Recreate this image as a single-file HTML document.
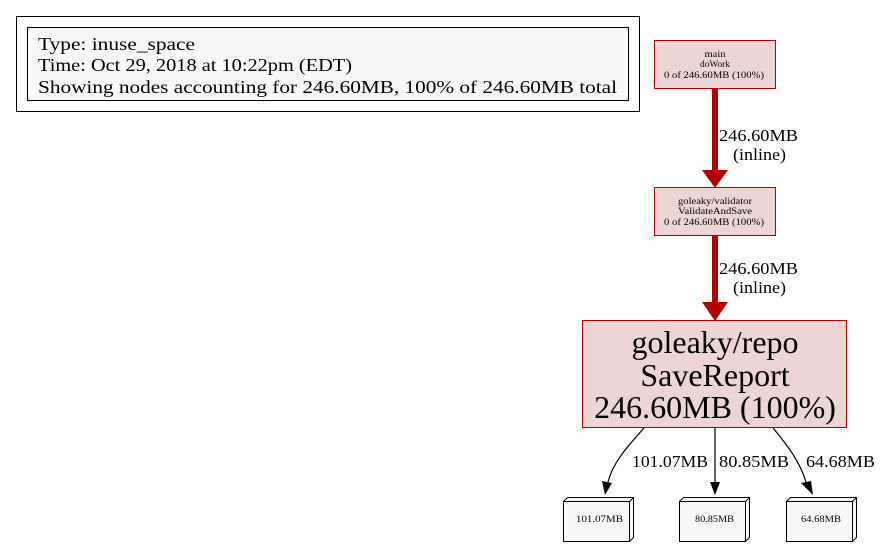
<!DOCTYPE html>
<html><head><meta charset="utf-8"><style>
html,body{margin:0;padding:0;background:#fff;}
svg{display:block;font-family:"Liberation Serif",serif;}
</style></head><body>
<svg width="882" height="547" viewBox="0 0 882 547" xmlns="http://www.w3.org/2000/svg">
<rect width="882" height="547" fill="#fff"/>
<!-- legend -->
<rect x="16.5" y="16.5" width="623" height="95" fill="#fff" stroke="#000"/>
<rect x="27.5" y="27.5" width="601" height="73" fill="#f8f8f8" stroke="#000"/>
<text x="38" y="50" font-size="18" textLength="157" lengthAdjust="spacingAndGlyphs">Type: inuse_space</text>
<text x="38" y="71" font-size="18" textLength="314" lengthAdjust="spacingAndGlyphs">Time: Oct 29, 2018 at 10:22pm (EDT)</text>
<text x="38" y="93" font-size="18" textLength="579" lengthAdjust="spacingAndGlyphs">Showing nodes accounting for 246.60MB, 100% of 246.60MB total</text>

<!-- main node -->
<rect x="654.5" y="40.5" width="121" height="48" fill="#edd5d5" stroke="#b20000"/>
<text x="715" y="57" font-size="9" text-anchor="middle" textLength="21" lengthAdjust="spacingAndGlyphs">main</text>
<text x="715" y="67" font-size="9" text-anchor="middle" textLength="30" lengthAdjust="spacingAndGlyphs">doWork</text>
<text x="714" y="78" font-size="9" text-anchor="middle" textLength="100" lengthAdjust="spacingAndGlyphs">0 of 246.60MB (100%)</text>

<!-- edge 1 -->
<rect x="712" y="88" width="6" height="84" fill="#b20000"/>
<polygon points="702,170 728,170 715,188" fill="#b20000"/>
<text x="719" y="141" font-size="17" textLength="79" lengthAdjust="spacingAndGlyphs">246.60MB</text>
<text x="733" y="160" font-size="17" textLength="53" lengthAdjust="spacingAndGlyphs">(inline)</text>

<!-- validator node -->
<rect x="654.5" y="187.5" width="121" height="48" fill="#edd5d5" stroke="#b20000"/>
<text x="715" y="204" font-size="9" text-anchor="middle" textLength="74" lengthAdjust="spacingAndGlyphs">goleaky/validator</text>
<text x="715" y="214" font-size="9" text-anchor="middle" textLength="74" lengthAdjust="spacingAndGlyphs">ValidateAndSave</text>
<text x="714" y="225" font-size="9" text-anchor="middle" textLength="100" lengthAdjust="spacingAndGlyphs">0 of 246.60MB (100%)</text>

<!-- edge 2 -->
<rect x="712" y="235" width="6" height="70" fill="#b20000"/>
<polygon points="702,302 728,302 715,321" fill="#b20000"/>
<text x="719" y="274" font-size="17" textLength="79" lengthAdjust="spacingAndGlyphs">246.60MB</text>
<text x="733" y="293" font-size="17" textLength="53" lengthAdjust="spacingAndGlyphs">(inline)</text>

<!-- repo node -->
<rect x="582.5" y="320.5" width="264" height="107" fill="#edd5d5" stroke="#b20000"/>
<text x="715" y="353" font-size="32" text-anchor="middle">goleaky/repo</text>
<text x="715" y="386" font-size="32" text-anchor="middle">SaveReport</text>
<text x="715" y="418" font-size="32" text-anchor="middle">246.60MB (100%)</text>

<!-- bottom edges -->
<path d="M644,428 C628,446 613,462 608,482" fill="none" stroke="#000" stroke-width="1.2"/>
<polygon points="602,481 612,483 605,495" fill="#000"/>
<line x1="715" y1="428" x2="715" y2="482" stroke="#000" stroke-width="1.2"/>
<polygon points="710,482 720,482 715,495" fill="#000"/>
<path d="M773,428 C788,446 800,462 806,482" fill="none" stroke="#000" stroke-width="1.2"/>
<polygon points="801,483 811,481 813,495" fill="#000"/>
<text x="632" y="467" font-size="17" textLength="76" lengthAdjust="spacingAndGlyphs">101.07MB</text>
<text x="719" y="467" font-size="17" textLength="70" lengthAdjust="spacingAndGlyphs">80.85MB</text>
<text x="806" y="467" font-size="17" textLength="69" lengthAdjust="spacingAndGlyphs">64.68MB</text>

<!-- box3d nodes -->
<g stroke="#000" fill="#f8f8f8">
<path d="M563.5,501.5 L567.5,497.5 L633.5,497.5 L633.5,537.5 L629.5,541.5 L563.5,541.5 Z"/>
<path d="M563.5,501.5 L629.5,501.5 L629.5,541.5 M629.5,501.5 L633.5,497.5" fill="none"/>
<path d="M679.5,501.5 L683.5,497.5 L749.5,497.5 L749.5,537.5 L745.5,541.5 L679.5,541.5 Z"/>
<path d="M679.5,501.5 L745.5,501.5 L745.5,541.5 M745.5,501.5 L749.5,497.5" fill="none"/>
<path d="M786.5,501.5 L790.5,497.5 L856.5,497.5 L856.5,537.5 L852.5,541.5 L786.5,541.5 Z"/>
<path d="M786.5,501.5 L852.5,501.5 L852.5,541.5 M852.5,501.5 L856.5,497.5" fill="none"/>
</g>
<text x="576" y="522" font-size="9" textLength="47" lengthAdjust="spacingAndGlyphs">101.07MB</text>
<text x="695" y="522" font-size="9" textLength="39" lengthAdjust="spacingAndGlyphs">80.85MB</text>
<text x="801" y="522" font-size="9" textLength="40" lengthAdjust="spacingAndGlyphs">64.68MB</text>
</svg>
</body></html>
